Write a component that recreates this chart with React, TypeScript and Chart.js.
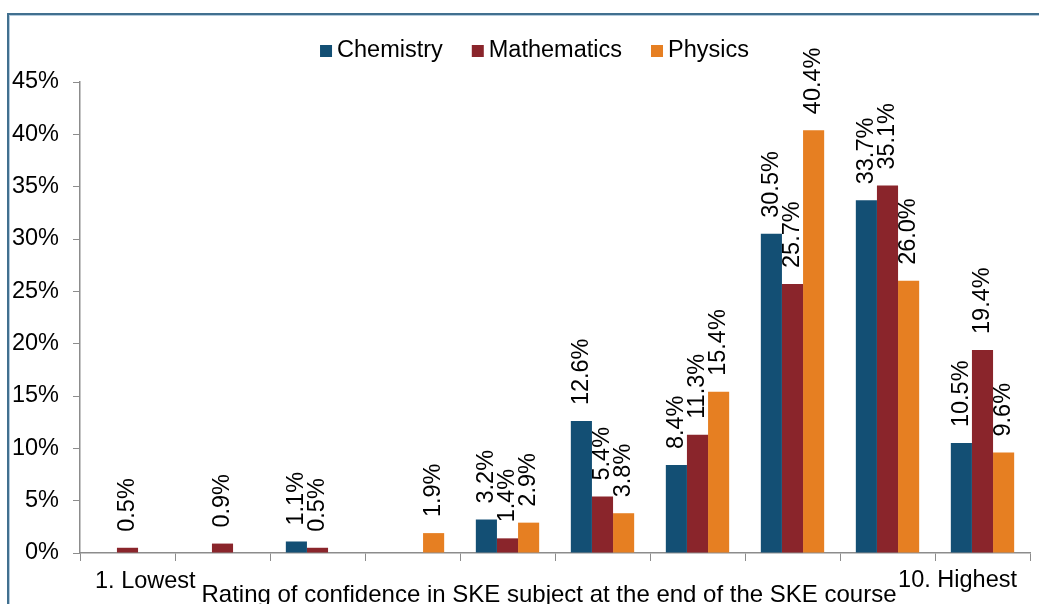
import React, { useEffect, useRef } from "react";
import { Chart, registerables } from "chart.js";

Chart.register(...registerables);

// ---- data ----
const categories = ["1. Lowest", "", "", "", "", "", "", "", "", "10. Highest"];
const chemistry = [null, null, 1.1, null, 3.2, 12.6, 8.4, 30.5, 33.7, 10.5];
const mathematics = [0.5, 0.9, 0.5, null, 1.4, 5.4, 11.3, 25.7, 35.1, 19.4];
const physics = [null, null, null, 1.9, 2.9, 3.8, 15.4, 40.4, 26.0, 9.6];
const seriesNames = ["Chemistry", "Mathematics", "Physics"];
const seriesColors = ["#134f74", "#8a252b", "#e67f22"];
const yMin = 0;
const yMax = 45;
const yStep = 5;
const xAxisTitle = "Rating of confidence in SKE subject at the end of the SKE course";

const FAMILY = '"Liberation Sans", Arial, Helvetica, sans-serif';
const SIZE = 23.5;
const FONT = `${SIZE}px ${FAMILY}`;
const TITLE_FONT = `24px ${FAMILY}`;
const AXIS_COLOR = "#8c8c8c";

const decorPlugin = {
  id: "decor",
  beforeDraw(chart: any) {
    const ctx = chart.ctx;
    ctx.save();
    ctx.fillStyle = "#ffffff";
    ctx.fillRect(0, 0, chart.width, chart.height);
    // frame
    ctx.fillStyle = "#41708f";
    ctx.fillRect(7, 13, 2, chart.height);
    ctx.fillRect(7, 13, chart.width, 2);
    ctx.fillStyle = "#b4cbdd";
    ctx.fillRect(9, 15, 1, chart.height);
    ctx.fillRect(9, 15, chart.width, 1);
    ctx.restore();
  },
  afterDatasetsDraw(chart: any) {
    const ctx = chart.ctx;
    ctx.save();
    ctx.font = FONT;
    ctx.fillStyle = "#000000";
    chart.data.datasets.forEach((ds: any, di: number) => {
      const meta = chart.getDatasetMeta(di);
      meta.data.forEach((el: any, i: number) => {
        const v = ds.data[i];
        if (v === null || v === undefined) return;
        const { x, y } = el.getProps(["x", "y"], true);
        ctx.save();
        ctx.translate(x, y - 16);
        ctx.rotate(-Math.PI / 2);
        ctx.textAlign = "left";
        ctx.textBaseline = "middle";
        ctx.fillText(v.toFixed(1) + "%", 0, 0);
        ctx.restore();
      });
    });
    ctx.restore();
  },
  afterDraw(chart: any) {
    const ctx = chart.ctx;
    const area = chart.chartArea;
    ctx.save();
    ctx.font = FONT;
    ctx.fillStyle = "#000000";
    ctx.textBaseline = "alphabetic";

    // legend
    const box = 12;
    const gap = 5;
    const itemGap = 29;
    const widths = seriesNames.map((n) => ctx.measureText(n).width);
    const total =
      widths.reduce((a, w) => a + box + gap + w, 0) + itemGap * (seriesNames.length - 1);
    let lx = chart.width / 2 + 15 - total / 2;
    seriesNames.forEach((n, i) => {
      ctx.fillStyle = seriesColors[i];
      ctx.fillRect(lx, 45, box, box);
      ctx.fillStyle = "#000000";
      ctx.textAlign = "left";
      ctx.fillText(n, lx + box + gap, 57);
      lx += box + gap + widths[i] + itemGap;
    });

    // category labels (only first and last carry text)
    ctx.textAlign = "left";
    ctx.fillText(categories[0], area.left + 15, 588);
    ctx.textAlign = "right";
    ctx.fillText(categories[categories.length - 1], area.right - 13, 587);

    // axis title
    ctx.font = TITLE_FONT;
    ctx.textAlign = "center";
    ctx.fillText(xAxisTitle, (area.left + area.right) / 2 - 6, 602);
    ctx.restore();
  },
};

export default function App() {
  const canvasRef = useRef<HTMLCanvasElement | null>(null);

  useEffect(() => {
    const canvas = canvasRef.current;
    if (!canvas) return;
    const datasets = [chemistry, mathematics, physics].map((d, i) => ({
      label: seriesNames[i],
      data: d,
      backgroundColor: seriesColors[i],
      borderWidth: 0,
      categoryPercentage: 2 / 3,
      barPercentage: 1,
    }));
    const chart = new Chart(canvas, {
      type: "bar",
      data: { labels: categories, datasets },
      options: {
        animation: false,
        responsive: false,
        devicePixelRatio: 1,
        layout: { padding: { top: 82, right: 9, bottom: 43, left: 0 } },
        plugins: {
          legend: { display: false },
          tooltip: { enabled: false },
        },
        scales: {
          x: {
            grid: {
              offset: true,
              drawOnChartArea: false,
              drawTicks: true,
              tickLength: 8,
              color: AXIS_COLOR,
              lineWidth: 1,
            },
            border: { color: AXIS_COLOR, width: 1.5 },
            ticks: { display: false },
          },
          y: {
            min: yMin,
            max: yMax,
            afterFit: (s: any) => {
              s.width = 80;
            },
            grid: {
              drawOnChartArea: false,
              drawTicks: true,
              tickLength: 7,
              color: AXIS_COLOR,
              lineWidth: 1,
            },
            border: { color: AXIS_COLOR, width: 1.5 },
            ticks: {
              stepSize: yStep,
              padding: 14,
              color: "#000000",
              font: { family: FAMILY, size: SIZE },
              callback: (v: any) => `${v}%`,
            },
          },
        },
      },
      plugins: [decorPlugin],
    });
    return () => chart.destroy();
  }, []);

  return (
    <div style={{ position: "absolute", left: 0, top: 0, width: 1039, height: 604 }}>
      <canvas ref={canvasRef} width={1039} height={604} style={{ display: "block" }} />
    </div>
  );
}
